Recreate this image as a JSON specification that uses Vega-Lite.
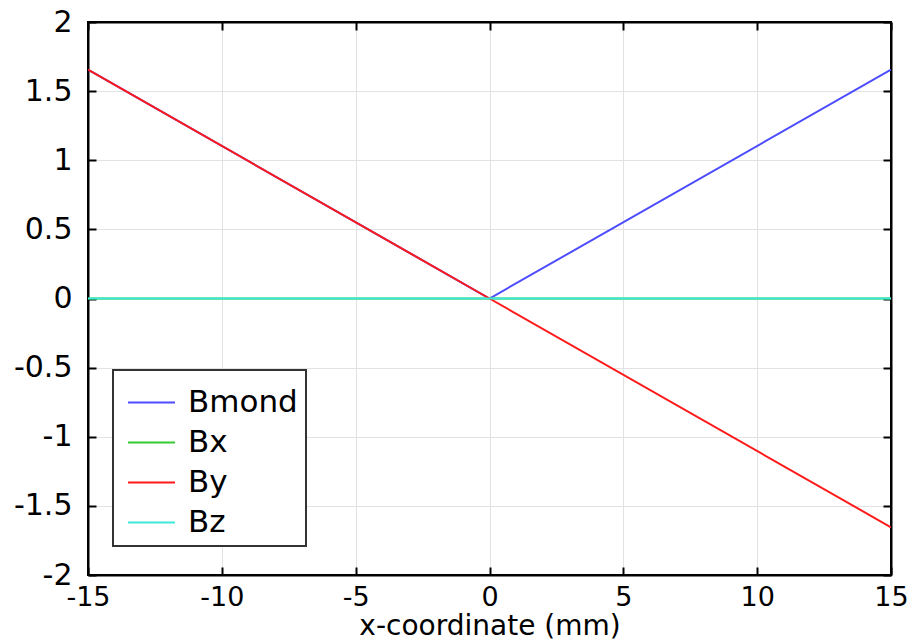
{
  "$schema": "https://vega.github.io/schema/vega-lite/v6.json",
  "width": 803,
  "height": 553,
  "autosize": {"type": "none"},
  "padding": {"left": 88, "top": 22, "right": 24, "bottom": 69},
  "background": "white",
  "config": {
    "view": {"stroke": "black", "strokeWidth": 2},
    "font": "DejaVu Sans",
    "axis": {
      "domainColor": "black",
      "domainWidth": 2,
      "tickColor": "black",
      "tickWidth": 2,
      "tickSize": -8,
      "gridColor": "#e2e2e2",
      "gridWidth": 1,
      "labelColor": "black",
      "titleColor": "black",
      "labelFont": "DejaVu Sans",
      "titleFont": "DejaVu Sans",
      "titleFontWeight": "normal"
    }
  },
  "data": {
    "values": [
      {"x": -15, "v": 1.655, "s": "Bmond"},
      {"x": 0, "v": 0, "s": "Bmond"},
      {"x": 15, "v": 1.655, "s": "Bmond"},
      {"x": -15, "v": 0, "s": "Bx"},
      {"x": 0, "v": 0, "s": "Bx"},
      {"x": 15, "v": 0, "s": "Bx"},
      {"x": -15, "v": 1.655, "s": "By"},
      {"x": 0, "v": 0, "s": "By"},
      {"x": 15, "v": -1.655, "s": "By"},
      {"x": -15, "v": 0, "s": "Bz"},
      {"x": 0, "v": 0, "s": "Bz"},
      {"x": 15, "v": 0, "s": "Bz"}
    ]
  },
  "layer": [
    {
      "mark": {"type": "line", "strokeWidth": 2, "clip": true},
      "encoding": {
        "x": {
          "field": "x", "type": "quantitative",
          "scale": {"domain": [-15, 15], "nice": false, "zero": false},
          "axis": {"orient": "bottom", "values": [-15, -10, -5, 0, 5, 10, 15], "labelExpr": "toString(datum.value)", "labelFontSize": 27, "labelPadding": 17, "title": "x-coordinate (mm)", "titleFontSize": 28, "titlePadding": 2, "labelFlush": false}
        },
        "y": {
          "field": "v", "type": "quantitative",
          "scale": {"domain": [-2, 2], "nice": false, "zero": false},
          "axis": {"orient": "left", "values": [-2, -1.5, -1, -0.5, 0, 0.5, 1, 1.5, 2], "labelExpr": "toString(datum.value)", "labelFontSize": 30, "labelPadding": 24, "title": null, "labelFlush": false}
        },
        "color": {
          "field": "s", "type": "nominal",
          "scale": {"domain": ["Bmond", "Bx", "By", "Bz"], "range": ["#4d4dff", "#33cc33", "#ff1a1a", "#3ce8d8"]},
          "legend": {
            "title": null,
            "orient": "none",
            "legendX": 25,
            "legendY": 348,
            "symbolType": "stroke",
            "symbolSize": 2209,
            "symbolStrokeWidth": 2,
            "symbolOffset": 6,
            "labelFontSize": 31,
            "labelOffset": 12,
            "labelColor": "black",
            "rowPadding": -1,
            "padding": 8,
            "fillColor": "white",
            "strokeColor": "#333333",
            "encode": {"legend": {"update": {"strokeWidth": {"value": 2}}}}
          }
        },
        "opacity": {
          "field": "s", "type": "nominal",
          "scale": {"domain": ["Bmond", "Bx", "By", "Bz"], "range": [1, 1, 0.7, 1]},
          "legend": null
        }
      }
    },
    {
      "mark": {"type": "line", "opacity": 0},
      "encoding": {
        "x": {
          "field": "x", "type": "quantitative",
          "axis": {"orient": "top", "values": [-15, -10, -5, 0, 5, 10, 15], "labels": false, "grid": false, "title": null}
        },
        "y": {
          "field": "v", "type": "quantitative",
          "axis": {"orient": "right", "values": [-2, -1.5, -1, -0.5, 0, 0.5, 1, 1.5, 2], "labels": false, "grid": false, "title": null}
        }
      }
    }
  ],
  "resolve": {"axis": {"x": "independent", "y": "independent"}}
}
